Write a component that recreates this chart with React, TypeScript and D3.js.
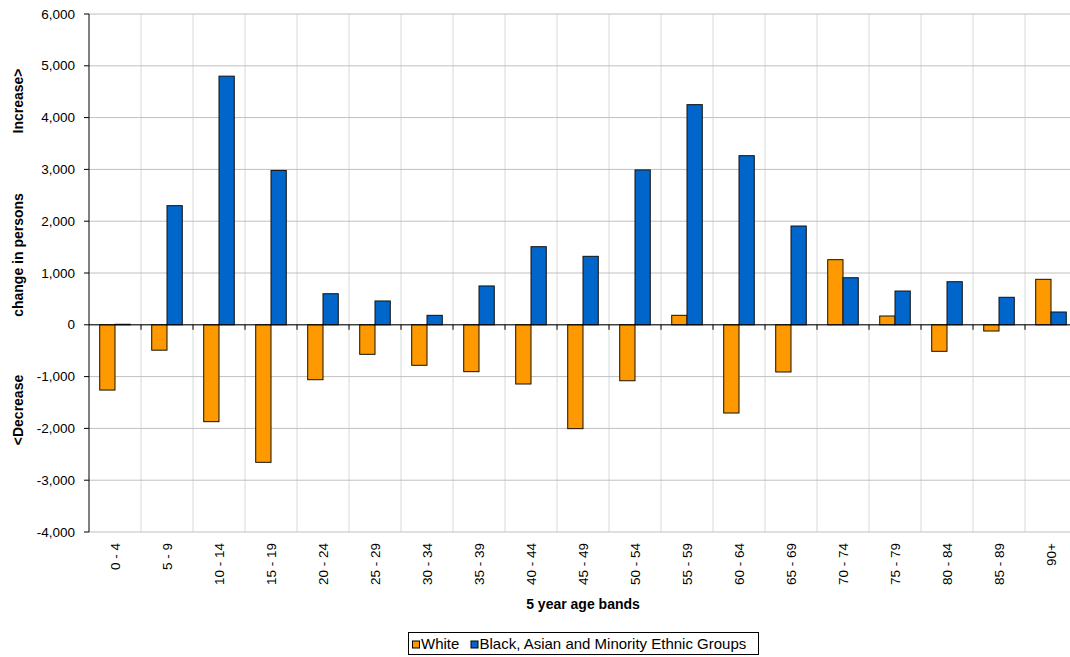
import * as React from "react";
import * as d3 from "d3";

const categories = [
  "0 - 4", "5 - 9", "10 - 14", "15 - 19", "20 - 24", "25 - 29", "30 - 34",
  "35 - 39", "40 - 44", "45 - 49", "50 - 54", "55 - 59", "60 - 64", "65 - 69",
  "70 - 74", "75 - 79", "80 - 84", "85 - 89", "90+",
];
const white = [
  -1260, -490, -1870, -2655, -1060, -570, -782, -905, -1143, -2005, -1080,
  183, -1703, -911, 1257, 170, -512, -120, 878,
];
const bame = [
  10, 2300, 4800, 2980, 600, 460, 183, 750, 1508, 1322, 2990, 4250, 3265,
  1907, 909, 652, 832, 531, 247,
];
const seriesNames = ["White", "Black, Asian and Minority Ethnic Groups"];
const seriesColors = ["#FF9900", "#0066CC"];
const yTicks = [-4000, -3000, -2000, -1000, 0, 1000, 2000, 3000, 4000, 5000, 6000];

const FONT = "Liberation Sans, Arial, sans-serif";

function App() {
  const width = 1070;
  const height = 657;
  const left = 89;
  const right = 89 + 52 * categories.length;
  const top = 14;
  const bottom = 532;

  const x = d3.scaleBand().domain(categories).range([left, right]).padding(0);
  const bw = x.bandwidth();
  const x1 = d3
    .scaleBand()
    .domain(["0", "1"])
    .range([bw * 0.206, bw * 0.794])
    .padding(0);
  const y = d3.scaleLinear().domain([-4000, 6000]).range([bottom, top]);
  const fmt = (v: number) => d3.format(",")(v).replace("\u2212", "-");
  const series = [white, bame];

  return (
    <svg
      width={width}
      height={height}
      style={{ position: "absolute", left: 0, top: 0, background: "#fff" }}
      fontFamily={FONT}
    >
      {/* vertical gridlines */}
      {categories.map((c, i) => (
        <line
          key={"vg" + i}
          x1={x(c)! + bw}
          x2={x(c)! + bw}
          y1={top}
          y2={bottom}
          stroke="#d9d9d9"
          strokeWidth={1}
        />
      ))}
      {/* horizontal gridlines */}
      {yTicks.map((t) => (
        <line
          key={"hg" + t}
          x1={left}
          x2={right}
          y1={y(t)}
          y2={y(t)}
          stroke="#c0c0c0"
          strokeWidth={1}
        />
      ))}

      {/* bars */}
      {series.map((vals, s) =>
        vals.map((v, i) => {
          const bx = x(categories[i])! + x1(String(s))!;
          const y0 = y(0);
          const yv = y(v);
          return (
            <rect
              key={"b" + s + "-" + i}
              x={bx}
              y={Math.min(y0, yv)}
              width={x1.bandwidth()}
              height={Math.max(Math.abs(yv - y0), 0.5)}
              fill={seriesColors[s]}
              stroke="#111"
              strokeWidth={1}
            />
          );
        })
      )}

      {/* y axis */}
      <line x1={left} x2={left} y1={top} y2={bottom} stroke="#000" strokeWidth={1} />
      {yTicks.map((t) => (
        <g key={"yt" + t} transform={`translate(${left}, ${y(t)})`}>
          <line x1={-5} x2={0} y1={0} y2={0} stroke="#000" />
          <text
            x={-14}
            y={0}
            textAnchor="end"
            dominantBaseline="central"
            fontSize={13.5}
            fill="#000"
          >
            {fmt(t)}
          </text>
        </g>
      ))}

      {/* x axis at zero */}
      <line x1={left} x2={right} y1={y(0)} y2={y(0)} stroke="#000" strokeWidth={1} />
      {categories.map((c, i) => (
        <line
          key={"xt" + i}
          x1={x(c)! + bw}
          x2={x(c)! + bw}
          y1={y(0)}
          y2={y(0) + 5}
          stroke="#000"
        />
      ))}
      {categories.map((c) => (
        <text
          key={"xl" + c}
          transform={`translate(${x(c)! + bw / 2}, ${bottom + 11}) rotate(-90)`}
          textAnchor="end"
          dominantBaseline="central"
          fontSize={13.5}
          fill="#000"
        >
          {c}
        </text>
      ))}

      {/* axis titles */}
      <text
        x={(left + right) / 2}
        y={609}
        textAnchor="middle"
        fontSize={14}
        fontWeight="bold"
      >
        5 year age bands
      </text>
      <text transform="translate(23, 101) rotate(-90)" textAnchor="middle" fontSize={14} fontWeight="bold">
        Increase&gt;
      </text>
      <text transform="translate(23, 255) rotate(-90)" textAnchor="middle" fontSize={14} fontWeight="bold">
        change in persons
      </text>
      <text transform="translate(23, 410) rotate(-90)" textAnchor="middle" fontSize={14} fontWeight="bold">
        &lt;Decrease
      </text>

      {/* legend */}
      <g transform="translate(408.5, 632.5)">
        <rect x={0} y={0} width={350} height={22} fill="#fff" stroke="#000" strokeWidth={1} />
        <rect x={4} y={8.5} width={7} height={7} fill={seriesColors[0]} stroke="#000" />
        <text x={12.5} y={16} fontSize={15}>
          {seriesNames[0]}
        </text>
        <rect x={62.5} y={8.5} width={7} height={7} fill={seriesColors[1]} stroke="#000" />
        <text x={71} y={16} fontSize={15}>
          {seriesNames[1]}
        </text>
      </g>
    </svg>
  );
}

export default App;
